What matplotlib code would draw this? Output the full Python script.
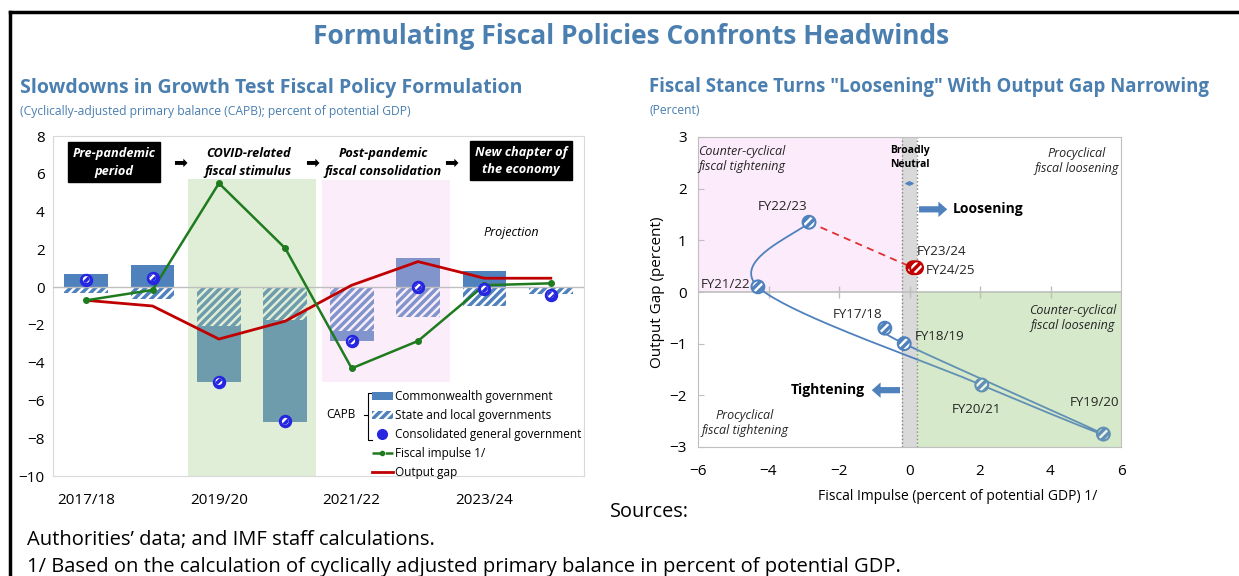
import numpy as np
import matplotlib
matplotlib.use("Agg")
import matplotlib.pyplot as plt
from matplotlib.patches import Patch, FancyArrow
from matplotlib.lines import Line2D

plt.rcParams['font.family'] = ['Open Sans', 'DejaVu Sans']
plt.rcParams['hatch.linewidth'] = 2.5

# ---------------- data ----------------
years = ["2017/18", "2018/19", "2019/20", "2020/21", "2021/22", "2022/23", "2023/24", "2024/25"]
fy_labels = ["FY17/18", "FY18/19", "FY19/20", "FY20/21", "FY21/22", "FY22/23", "FY23/24", "FY24/25"]
commonwealth = [0.7, 1.15, -2.95, -5.4, -0.55, 1.55, 0.85, 0.0]
state_local = [-0.3, -0.65, -2.05, -1.75, -2.3, -1.6, -1.0, -0.35]
consolidated = [0.4, 0.5, -5.0, -7.1, -2.85, 0.0, -0.1, -0.4]
fiscal_impulse = [-0.7, -0.15, 5.5, 2.05, -4.3, -2.85, 0.1, 0.2]
output_gap = [-0.7, -1.0, -2.75, -1.8, 0.1, 1.35, 0.47, 0.47]

BLUE = "#4f81bd"
TITLE_BLUE = "#4a7fb0"
GREEN = "#1e7b1e"
RED = "#c00000"

fig = plt.figure(figsize=(12.39, 5.76), dpi=100)

# frame lines of the page
fig.add_artist(Line2D([10/1239, 1], [1-12/576, 1-12/576], color="black", lw=2.5))
fig.add_artist(Line2D([10/1239, 10/1239], [0, 1-12/576], color="black", lw=2.5))

fig.text(631/1239, 1-36/576, "Formulating Fiscal Policies Confronts Headwinds",
         ha="center", va="center", fontsize=19, fontweight="bold", color=TITLE_BLUE)
fig.text(20/1239, 1-88/576, "Slowdowns in Growth Test Fiscal Policy Formulation",
         ha="left", va="center", fontsize=14, fontweight="bold", color=TITLE_BLUE)
fig.text(20/1239, 1-111/576, "(Cyclically-adjusted primary balance (CAPB); percent of potential GDP)",
         ha="left", va="center", fontsize=8.7, color=TITLE_BLUE)
fig.text(649/1239, 1-87/576, 'Fiscal Stance Turns "Loosening" With Output Gap Narrowing',
         ha="left", va="center", fontsize=13.4, fontweight="bold", color=TITLE_BLUE)
fig.text(649/1239, 1-111/576, "(Percent)", ha="left", va="center", fontsize=8.7, color=TITLE_BLUE)

# ---------------- left chart ----------------
ax = fig.add_axes([53/1239, 1-476/576, 531/1239, 340/576])
x = np.arange(len(years))
comm = np.array(commonwealth)
st = np.array(state_local)
comm_bottom = np.where((comm < 0) & (st < 0), st, 0)

ax.bar(x, st, width=0.66, color="white", edgecolor=BLUE, hatch="////", lw=0, zorder=2)
ax.bar(x, comm, bottom=comm_bottom, width=0.66, color=BLUE, lw=0, zorder=2)

# shaded periods (drawn over bars, lightly)
ax.axvspan(1.53, 3.46, ymin=0, ymax=(5.7+10)/18, color="#a9d18e", alpha=0.35, lw=0, zorder=2.5)
ax.axvspan(3.55, 5.48, ymin=(-5+10)/18, ymax=(5.66+10)/18, color="#f6c6f2", alpha=0.3, lw=0, zorder=2.5)

ax.axhline(0, color="#bfbfbf", lw=1, zorder=2.6)
ax.plot(x, output_gap, color=RED, lw=2, zorder=3)
ax.plot(x, fiscal_impulse, color=GREEN, lw=1.8, marker="o", ms=4, zorder=3)
ax.scatter(x, consolidated, s=75, color="#2626e0", zorder=4)
ax.scatter(x, consolidated, s=24, facecolor="white", edgecolor="#2626e0", hatch="////", lw=0, zorder=5)

ax.set_xlim(-0.5, 7.5)
ax.set_ylim(-10, 8)
ax.set_yticks(np.arange(-10, 9, 2))
ax.set_xticks(x[::2])
ax.set_xticklabels(years[::2])
ax.tick_params(length=0, labelsize=11, pad=6)
ax.tick_params(axis="x", pad=12)
for s in ax.spines.values():
    s.set_color("#d9d9d9")

box = dict(boxstyle="square,pad=0.35", facecolor="black", edgecolor="black")
ax.text(0.42, 6.6, "Pre-pandemic\nperiod", ha="center", va="center", color="white",
        fontsize=9.2, fontweight="bold", style="italic", bbox=box, linespacing=1.5)
ax.text(2.44, 6.6, "COVID-related\nfiscal stimulus", ha="center", va="center",
        fontsize=9.2, fontweight="bold", style="italic", linespacing=1.5)
ax.text(4.47, 6.6, "Post-pandemic\nfiscal consolidation", ha="center", va="center",
        fontsize=9.2, fontweight="bold", style="italic", linespacing=1.5)
ax.text(6.55, 6.7, "New chapter of\nthe economy", ha="center", va="center", color="white",
        fontsize=9.2, fontweight="bold", style="italic", bbox=box, linespacing=1.4)
for ax_x in [1.41, 3.4, 5.5]:
    ax.text(ax_x, 6.6, "\u27a1", ha="center", va="center", fontsize=12, family="DejaVu Sans")
ax.text(6.4, 2.9, "Projection", ha="center", va="center", fontsize=9, style="italic")

handles = [Patch(facecolor=BLUE, lw=0),
           Patch(facecolor="white", edgecolor=BLUE, hatch="////", lw=0),
           Line2D([], [], ls="none", marker="o", ms=7, markerfacecolor="#2626e0",
                  markeredgecolor="#2626e0"),
           Line2D([], [], color=GREEN, ls="--", marker="o", ms=3, lw=1.8),
           Line2D([], [], color=RED, lw=2)]
labels = ["Commonwealth government", "State and local governments",
          "Consolidated general government", "Fiscal impulse 1/", "Output gap"]
leg = ax.legend(handles, labels, loc="upper left", bbox_to_anchor=(0.6, 0.252),
                frameon=False, fontsize=8.5, handlelength=1.8, handletextpad=0.15,
                labelspacing=0.5, borderaxespad=0, borderpad=0)
leg.set_zorder(6)
ax.text(0.515, 0.18, "CAPB", transform=ax.transAxes, ha="left", va="center", fontsize=8.5)
ax.plot([0.6, 0.593, 0.593, 0.6], [0.245, 0.245, 0.105, 0.105], transform=ax.transAxes,
        color="black", lw=0.8, clip_on=False)
ax.plot([0.585, 0.593], [0.18, 0.18], transform=ax.transAxes, color="black", lw=0.8, clip_on=False)

# ---------------- right chart ----------------
bx = fig.add_axes([698/1239, 1-447/576, 423/1239, 310/576])
bx.set_xlim(-6, 6)
bx.set_ylim(-3, 3)
bx.axvspan(-6, -0.2, ymin=0.5, ymax=1, color="#fcebfb", lw=0, zorder=0)
bx.axvspan(0.2, 6, ymin=0, ymax=0.5, color="#a9d18e", alpha=0.33, lw=0, zorder=0)
bx.axvspan(-0.2, 0.2, color="#d9d9d9", lw=0, zorder=0.5)
bx.axvline(-0.2, color="#808080", ls=":", lw=1, zorder=1)
bx.axvline(0.2, color="#808080", ls=":", lw=1, zorder=1)
bx.axhline(0, color="#bfbfbf", lw=1.2, zorder=1)
bx.plot([-4, -2, 0, 2, 4], [0, 0, 0, 0, 0], ls="none", marker="|", ms=8, color="#bfbfbf", zorder=1)


def excel_smooth(px, py, n=40):
    # bezier smoothing like a spreadsheet "smoothed line"
    px = np.asarray(px, float)
    py = np.asarray(py, float)
    P = np.column_stack([px, py])
    Q = np.vstack([P[0], P, P[-1]])
    out = []
    for i in range(len(P) - 1):
        p0, p1 = P[i], P[i+1]
        c1 = p0 + (Q[i+2] - Q[i]) / 6
        c2 = p1 - (Q[i+3] - Q[i+1]) / 6
        t = np.linspace(0, 1, n)[:, None]
        out.append((1-t)**3*p0 + 3*(1-t)**2*t*c1 + 3*(1-t)*t**2*c2 + t**3*p1)
    out = np.vstack(out)
    return out[:, 0], out[:, 1]


sx, sy = excel_smooth(fiscal_impulse[:6], output_gap[:6])
bx.plot(sx, sy, color=BLUE, lw=1.3, zorder=2)
rx, ry = excel_smooth(fiscal_impulse[5:], output_gap[5:])
bx.plot(rx, ry, color="#e03030", lw=1.3, ls=(0, (4, 3)), zorder=2)
bx.scatter(fiscal_impulse[:6], output_gap[:6], s=85, facecolor="white", edgecolor=BLUE,
           hatch="////", lw=1.5, zorder=3)
bx.scatter(fiscal_impulse[6:], output_gap[6:], s=85, facecolor="white", edgecolor=RED,
           hatch="////", lw=1.5, zorder=3)
# green tint over the lower-right quadrant
bx.axvspan(0.2, 6, ymin=0, ymax=0.5, color="#a9d18e", alpha=0.2, lw=0, zorder=3.5)

lab_pos = {"FY17/18": (-1.46, -0.43, "center"), "FY18/19": (0.16, -0.87, "left"),
           "FY19/20": (5.25, -2.13, "center"), "FY20/21": (1.9, -2.28, "center"),
           "FY21/22": (-4.5, 0.14, "right"), "FY22/23": (-3.6, 1.66, "center"),
           "FY23/24": (0.2, 0.78, "left"), "FY24/25": (0.45, 0.41, "left")}
for lab in fy_labels:
    lx, ly, ha = lab_pos[lab]
    bx.text(lx, ly, lab, ha=ha, va="center", fontsize=9.6, color="#262626", zorder=5)

it = dict(ha="center", va="center", fontsize=9, style="italic", color="#262626", zorder=5)
bx.text(-4.75, 2.57, "Counter-cyclical\nfiscal tightening", **it)
bx.text(4.75, 2.54, "Procyclical\nfiscal loosening", **it)
bx.text(4.64, -0.5, "Counter-cyclical\nfiscal loosening", **it)
bx.text(-4.67, -2.53, "Procyclical\nfiscal tightening", **it)
bx.text(0, 2.6, "Broadly\nNeutral", ha="center", va="center", fontsize=7.5,
        fontweight="bold", zorder=5, linespacing=1.4)
bx.annotate("", xy=(-0.22, 2.1), xytext=(0.22, 2.1),
            arrowprops=dict(arrowstyle="<->", color=BLUE, lw=1, mutation_scale=6), zorder=5)
bx.add_patch(FancyArrow(0.27, 1.6, 0.55, 0, width=0.12, head_width=0.3, head_length=0.25,
                        length_includes_head=False, color=BLUE, lw=0, zorder=5))
bx.text(1.22, 1.6, "Loosening", ha="left", va="center", fontsize=10, fontweight="bold", zorder=5)
bx.add_patch(FancyArrow(-0.27, -1.9, -0.55, 0, width=0.12, head_width=0.3, head_length=0.25,
                        length_includes_head=False, color=BLUE, lw=0, zorder=5))
bx.text(-1.27, -1.9, "Tightening", ha="right", va="center", fontsize=10, fontweight="bold", zorder=5)

bx.set_xticks(np.arange(-6, 7, 2))
bx.set_yticks(np.arange(-3, 4, 1))
bx.tick_params(axis="x", length=0, labelsize=11, pad=12)
bx.tick_params(axis="y", direction="in", length=4, color="#bfbfbf", labelsize=11, pad=8)
for s in bx.spines.values():
    s.set_color("#bfbfbf")
bx.set_ylabel("Output Gap (percent)", fontsize=11, labelpad=3)
fig.text(958/1239, 1-497/576, "Fiscal Impulse (percent of potential GDP) 1/",
         ha="center", va="center", fontsize=10)

# ---------------- notes ----------------
fig.text(610/1239, 1-512/576, "Sources:", ha="left", va="center", fontsize=14.3)
fig.text(27/1239, 1-540/576, "Authorities\u2019 data; and IMF staff calculations.",
         ha="left", va="center", fontsize=14.5)
fig.text(27/1239, 1-567/576,
         "1/ Based on the calculation of cyclically adjusted primary balance in percent of potential GDP.",
         ha="left", va="center", fontsize=14.5)

fig.savefig("out.png", dpi=100)
